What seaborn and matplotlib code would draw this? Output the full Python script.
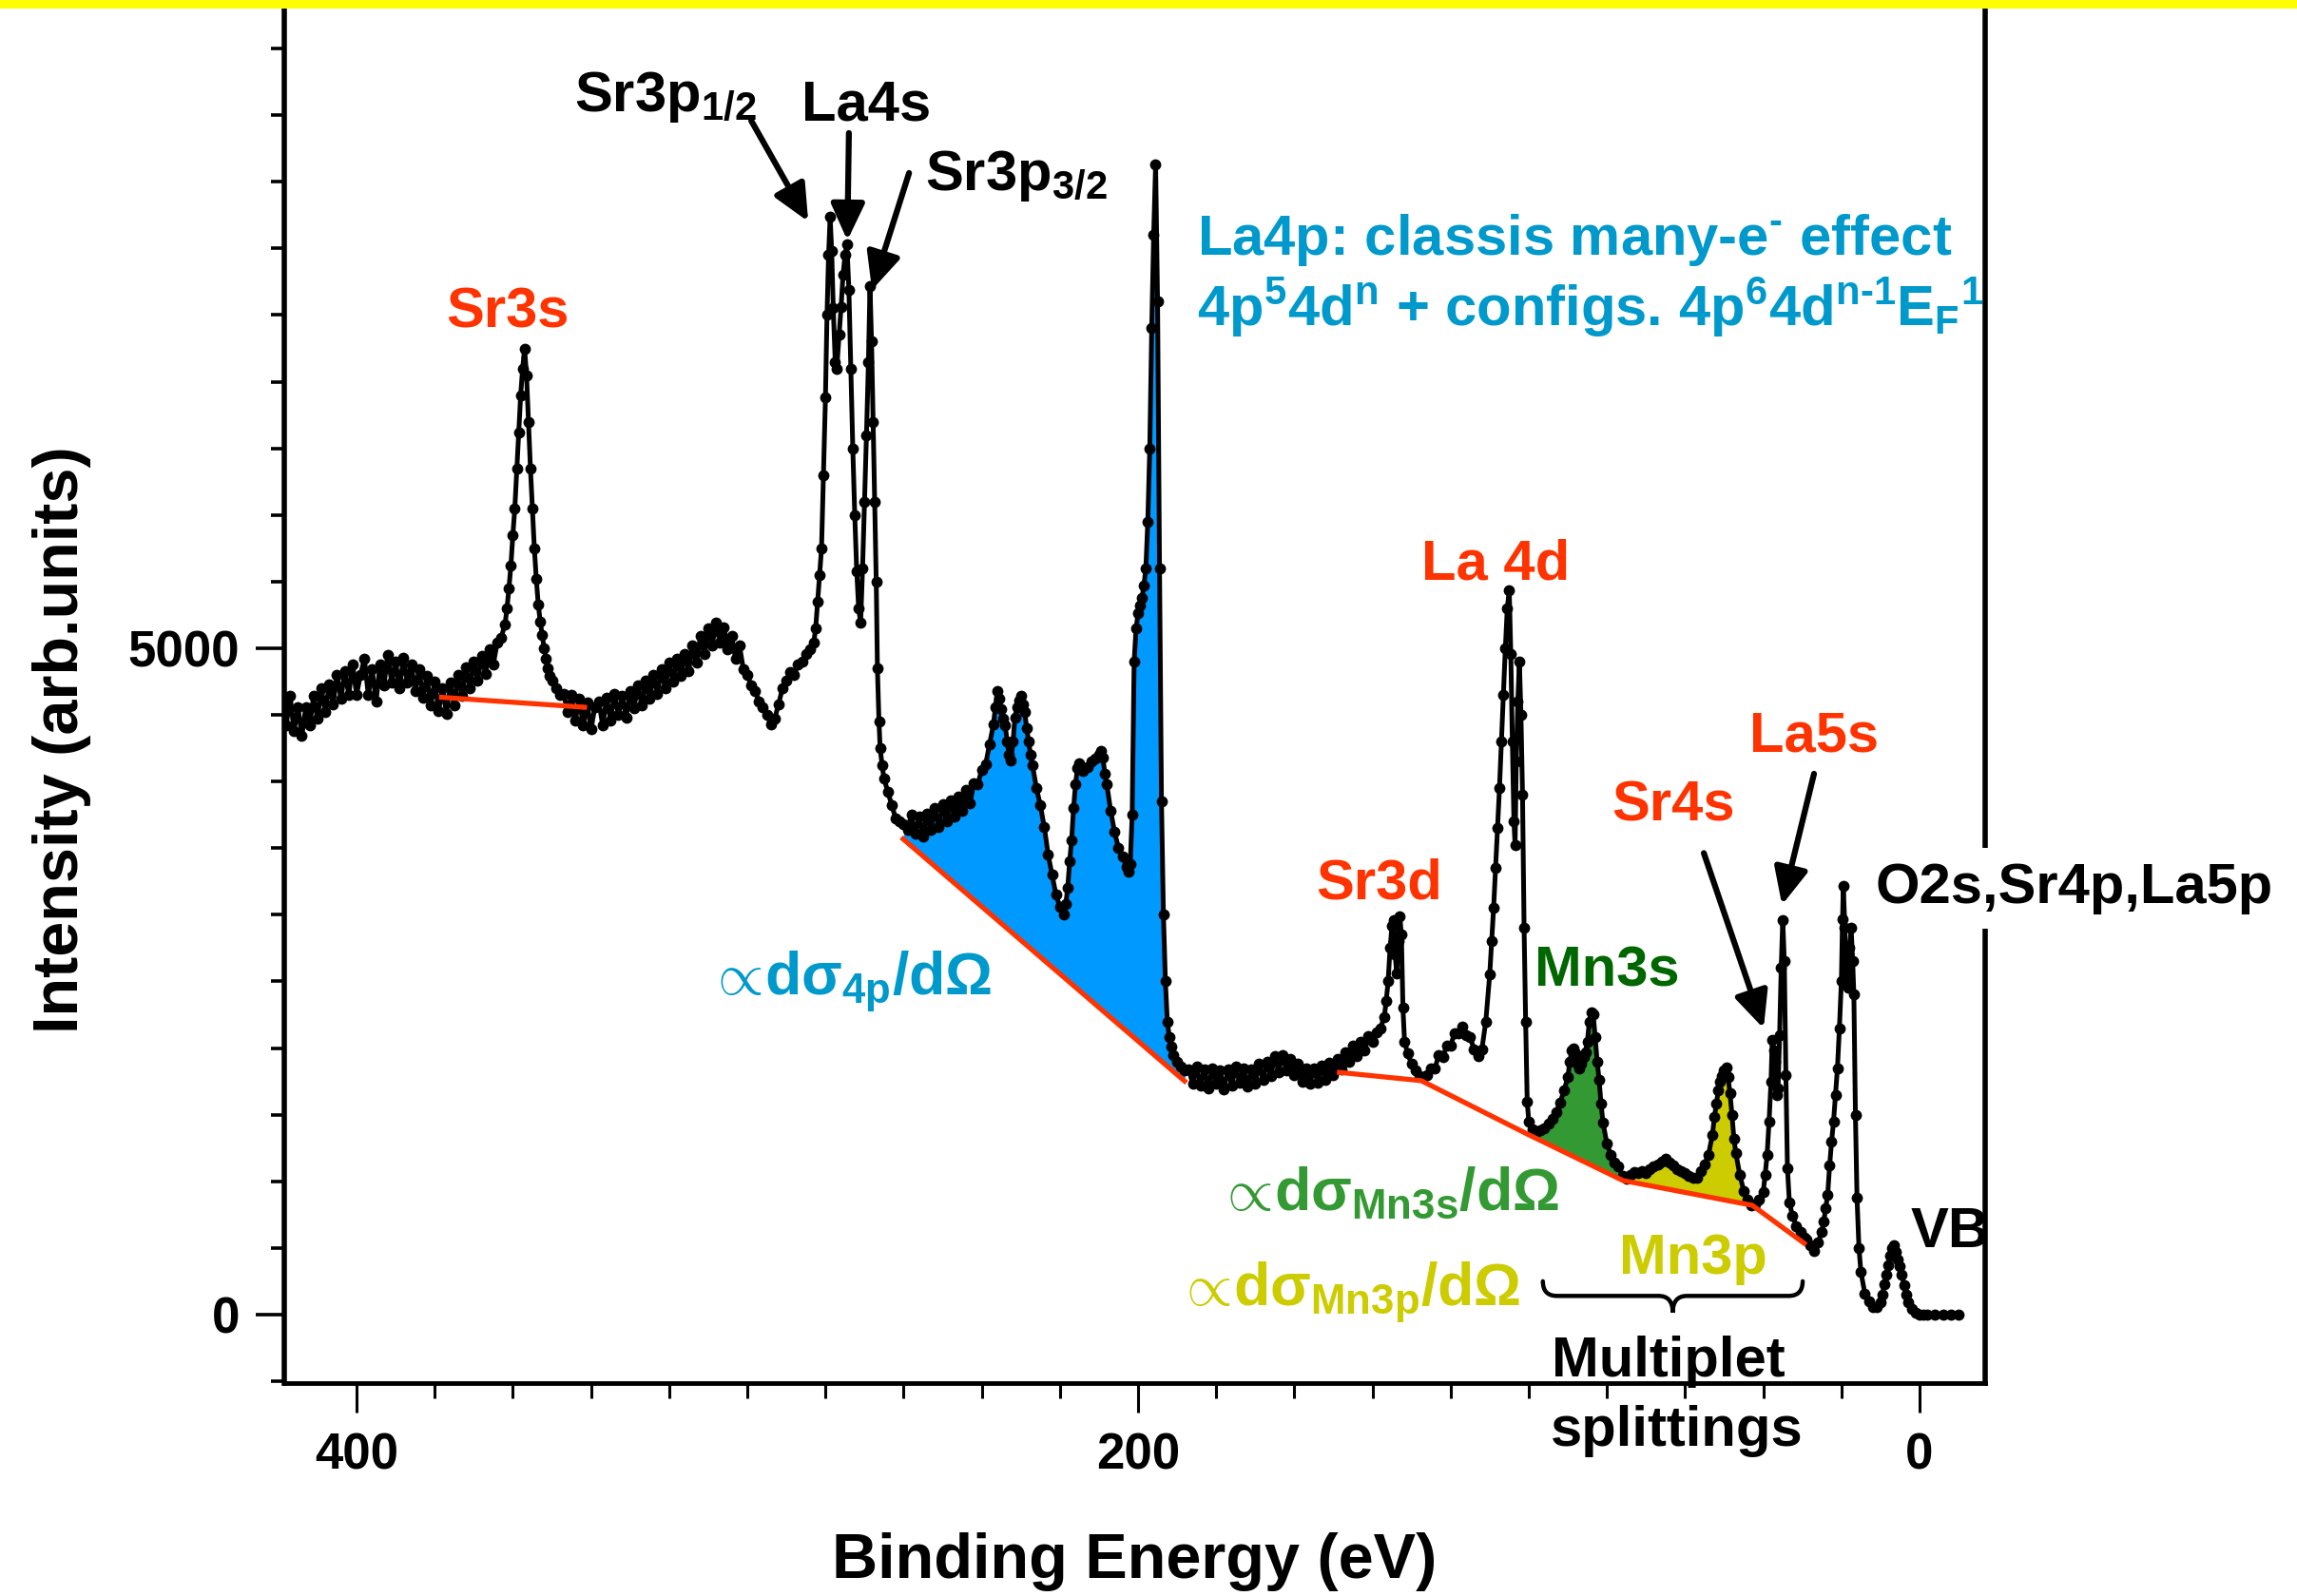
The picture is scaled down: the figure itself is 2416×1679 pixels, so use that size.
import numpy as np
import pandas as pd
import matplotlib
matplotlib.use("Agg")
import matplotlib.pyplot as plt
from matplotlib.patches import PathPatch, Rectangle
from matplotlib.path import Path
from matplotlib.ticker import MultipleLocator
import seaborn as sns

# ---------------------------------------------------------------------------
# XPS survey spectrum: (binding energy [eV], intensity [arb. units]) by region
# ---------------------------------------------------------------------------
sr3s_region = [
    (419, 4600), (418, 4420), (417, 4640), (416, 4380), (415, 4560), (414, 4340),
    (413, 4560), (412, 4420), (411, 4640), (410, 4470), (409, 4700), (408, 4520),
    (407, 4730), (406, 4580), (405, 4800), (404, 4620), (403, 4830), (402, 4650),
    (401, 4880), (400, 4650), (399, 4800), (398, 4920), (397, 4650), (396, 4840),
    (395, 4600), (394, 4880), (393, 4720), (392, 4950), (391, 4740), (390, 4900),
    (389, 4700), (388, 4930), (387, 4740), (386, 4880), (385, 4680), (384, 4840),
    (383, 4630), (382, 4790), (381, 4570), (380, 4750), (379, 4530), (378, 4700),
    (377, 4510), (376, 4740), (375, 4570), (374, 4800), (373, 4640), (372, 4860),
    (371, 4700), (370, 4900), (369, 4760), (368, 4940), (367, 4810), (366, 4990),
    (365, 4880), (364, 5040), (363, 5080), (362, 5180),
    (361.5, 5300), (361, 5450), (360.5, 5620), (360, 5850), (359.5, 6050),
    (359, 6350), (358.5, 6620), (358, 6900), (357.5, 7100), (357, 7250),
    (356.5, 7050), (356, 6700), (355.5, 6350), (355, 6050), (354.5, 5750),
    (354, 5520), (353.5, 5330), (353, 5200), (352.5, 5100), (352, 5000),
    (351.5, 4920), (351, 4850), (350.5, 4790), (350, 4760), (349, 4700), (348, 4650),
    (347, 4660), (346, 4520), (345, 4650), (344, 4460), (343, 4620), (342, 4420),
    (341, 4590), (340, 4390), (339, 4560), (338, 4600), (337, 4420), (336, 4630),
    (335, 4460), (334, 4660), (333, 4500), (332, 4640), (331, 4480), (330, 4680),
    (329, 4550), (328, 4720), (327, 4570), (326, 4760), (325, 4620), (324, 4800),
    (323, 4660), (322, 4840), (321, 4700), (320, 4890), (319, 4750), (318, 4920),
    (317, 4790), (316, 4960), (315, 4830), (314, 5020), (313, 4890), (312, 5090),
    (311, 4960), (310, 5150), (309, 5020), (308, 5190), (307, 5040), (306, 5160),
    (305, 4990), (304, 5090), (303, 4920), (302, 5020), (301, 4840), (300, 4800),
]

sr3p_region = [
    (299, 4720), (298, 4680), (297, 4600), (296, 4560), (295, 4500), (294, 4430),
    (293, 4470), (292, 4580), (291, 4700), (290, 4760), (289, 4820), (288, 4800),
    (287, 4880), (286, 4900), (285, 4960), (284, 4990), (283, 5040),
    (282.5, 5150), (282, 5350), (281.5, 5550), (281, 5750), (280.5, 6300),
    (280, 6880), (279.6, 7500), (279.2, 7950), (278.8, 8235), (278.4, 7980),
    (278, 7550), (277.5, 7150), (277.1, 7100), (276.5, 7350), (276, 7560),
    (275.5, 7800), (275, 7950), (274.5, 8030), (274, 7690), (273.5, 7100),
    (273, 6500), (272.5, 6000), (272, 5580), (271.5, 5300), (271, 5190),
    (270.5, 5600), (270, 6100), (269.5, 6600), (269, 7150), (268.6, 7720),
    (268.2, 7300), (267.8, 6700), (267.4, 6100), (267, 5500), (266.7, 4850),
    (266.3, 4450), (266, 4250), (265.5, 4120), (265, 4020), (264, 3920),
    (263, 3820), (262, 3720), (261, 3700), (260, 3680),
]

la4p_region = [
    (259, 3640), (258, 3750), (257, 3610), (256, 3740), (255, 3590), (254, 3760),
    (253, 3640), (252, 3800), (251, 3660), (250, 3830), (249, 3700), (248, 3860),
    (247, 3740), (246, 3890), (245, 3780), (244, 3940), (243, 3840), (242, 3990),
    (241, 3980), (240, 4090), (239, 4130), (238, 4280), (237, 4430), (236.5, 4560),
    (236, 4680), (235.5, 4620), (235, 4540), (234.5, 4470), (234, 4420),
    (233.5, 4300), (233, 4200), (232.5, 4160), (232, 4300), (231.5, 4480),
    (231, 4560), (230.5, 4610), (230, 4640), (229.5, 4580), (229, 4520),
    (228.5, 4400), (228, 4300), (227.5, 4200), (227, 4120), (226, 3950),
    (225, 3820), (224, 3660), (223, 3450), (222, 3300), (221, 3150), (220, 3060),
    (219, 3000), (218.5, 3080), (218, 3200), (217.5, 3400), (217, 3560),
    (216.5, 3800), (216, 3980), (215.5, 4100), (215, 4140), (214, 4080),
    (213, 4110), (212, 4150), (211, 4170), (210, 4200), (209.5, 4230),
    (209, 4180), (208.5, 4060), (208, 3980), (207, 3780), (206, 3620),
    (205, 3500), (204, 3440), (203, 3360), (202.5, 3320), (202, 3380),
    (201.5, 3750), (201, 4900), (200.5, 5150), (200, 5260), (199.5, 5320),
    (199, 5380), (198.5, 5470), (198, 5600), (197.5, 5950), (197, 6500),
    (196.5, 7400), (196, 8100), (195.5, 8630), (195, 7600), (194.5, 5600),
    (194, 3850), (193.5, 3000), (193, 2500), (192.5, 2200), (192, 2080),
    (191.5, 2010), (191, 1950), (190, 1900), (189, 1860), (188, 1830),
]

sr3d_la4d_region = [
    (187, 1840), (186, 1730), (185, 1860), (184, 1720), (183, 1840), (182, 1700),
    (181, 1850), (180, 1730), (179, 1830), (178, 1690), (177, 1840), (176, 1720),
    (175, 1860), (174, 1740), (173, 1850), (172, 1710), (171, 1840), (170, 1730),
    (169, 1880), (168, 1760), (167, 1900), (166, 1790), (165, 1940), (164, 1820),
    (163, 1950), (162, 1830), (161, 1920), (160, 1800), (159, 1880), (158, 1750),
    (157, 1850), (156, 1730), (155, 1850), (154, 1740), (153, 1870), (152, 1760),
    (151, 1890), (150, 1800), (149, 1920), (148, 1840), (147, 1970), (146, 1900),
    (145, 2020), (144, 1940), (143, 2050), (142, 1980), (141, 2090), (140, 2050),
    (139, 2120), (138, 2150), (137, 2230), (136.5, 2350), (136, 2500),
    (135.5, 2750), (135, 2920), (134.6, 2960), (134.2, 2700), (133.8, 2560),
    (133.4, 2800), (133, 2990), (132.6, 2850), (132.2, 2300), (131.8, 2050),
    (131, 1960), (130, 1880), (129, 1830), (128, 1790), (127, 1780), (126, 1800),
    (125, 1850), (124, 1850), (123, 1950), (122, 1930), (121, 2020), (120, 2020),
    (119, 2110), (118, 2110), (117, 2160), (116, 2100), (115, 2080), (114, 1990),
    (113, 1940), (112, 1990), (111, 2200), (110, 2550), (109.5, 2800),
    (109, 3050), (108.5, 3350), (108, 3650), (107.5, 3950), (107, 4300),
    (106.5, 4650), (106, 5000), (105.5, 5300), (105, 5435), (104.6, 4960),
    (104.2, 4300), (103.8, 3700), (103.5, 3520), (103.2, 4150), (102.8, 4600),
    (102.4, 4900), (102, 4500), (101.6, 3900), (101.2, 2900), (100.8, 2200),
    (100.4, 1600),
]

mn_region = [
    (100, 1450), (99, 1390), (98, 1370), (97, 1380), (96, 1400), (95, 1430),
    (94, 1470), (93, 1520), (92, 1590), (91, 1680), (90, 1780), (89.5, 1900),
    (89, 1980), (88.5, 2000), (88, 1960), (87.5, 1880), (87, 1850), (86.5, 1880),
    (86, 1930), (85.5, 1970), (85, 2050), (84.5, 2200), (84, 2270), (83.5, 2250),
    (83, 2080), (82.5, 1900), (82, 1760), (81.5, 1580), (81, 1440), (80, 1280),
    (79, 1200), (78, 1140), (77, 1110), (76, 1040), (75, 1020), (74, 1050),
    (73, 1070), (72, 1060), (71, 1080), (70, 1060), (69, 1090), (68, 1110),
    (67, 1130), (66, 1150), (65, 1170), (64, 1140), (63, 1120), (62, 1090),
    (61, 1080), (60, 1060), (59, 1040), (58, 1030), (57, 1030), (56, 1080),
    (55, 1130), (54, 1200), (53, 1350), (52.5, 1480), (52, 1580), (51.5, 1680),
    (51, 1750), (50.5, 1790), (50, 1830), (49.5, 1855), (49, 1780), (48.5, 1660),
    (48, 1500), (47.5, 1320), (47, 1210), (46, 1050), (45, 930), (44, 860),
    (43, 820), (42, 830), (41, 860), (40, 920),
]

valence_region = [
    (39.5, 1050), (39, 1200), (38.5, 1450), (38, 1750), (37.7, 2060), (37.3, 1980),
    (37, 1900), (36.6, 1650), (36.2, 1700), (35.8, 2100), (35.4, 2600), (35, 2960),
    (34.6, 2650), (34.2, 1800), (33.8, 1100), (33.3, 840), (32.5, 740),
    (31.5, 665), (30.5, 620), (29.5, 580), (29, 560), (28, 520), (27, 475),
    (26, 540), (25, 620), (24.5, 700), (24, 800), (23.5, 900), (23, 1120),
    (22.5, 1300), (22, 1450), (21.5, 1650), (21, 1850), (20.5, 2150), (20, 2500),
    (19.7, 2970), (19.5, 3215), (19.1, 2900), (18.7, 2500), (18.3, 2450),
    (17.9, 2750), (17.5, 2900), (17.1, 2650), (16.8, 2400), (16.4, 1500),
    (16, 880), (15.5, 500), (15, 320), (14, 160), (13, 100), (12, 60), (11, 55),
    (10, 90), (9.5, 150), (9, 230), (8.5, 300), (8, 370), (7.5, 440), (7, 500),
    (6.6, 520), (6, 470), (5.5, 410), (5, 360), (4.5, 300), (4, 220), (3.5, 150),
    (3, 90), (2, 40), (1, 15), (0, 0), (-1, 0), (-2, 0), (-4, 0), (-6, 0),
    (-8, 0), (-10, 0),
]

# Linear backgrounds drawn under the analysed peaks
sr3s_bg_energy = [378.9, 341.0]
sr3s_bg_counts = [4633, 4556]
la4p_bg_energy = [260.6, 187.6]
la4p_bg_counts = [3581, 1740]
mn_bg_energy = [149.1, 127.5, 100.2, 75.9, 42.8, 29.0]
mn_bg_counts = [1819, 1755, 1352, 1006, 820, 524]

# Energy windows of the shaded cross-section areas
la4p_window = (187.6, 260.6)
mn3s_window = (75.9, 99.5)
mn3p_window = (42.8, 75.9)

RED = "#FF3300"
BLUE_TXT = "#0099CC"
BLUE_FILL = "#0099FF"
GREEN_DARK = "#006600"
GREEN = "#339933"
YELLOW = "#CCCC00"

# ---------------------------------------------------------------------------
sns.set_theme(style="ticks")
plt.rcParams.update({
    "font.family": ["Liberation Sans", "DejaVu Sans"],
    "font.weight": "bold",
    "axes.labelweight": "bold",
    "axes.labelcolor": "black",
    "mathtext.fontset": "custom",
    "mathtext.rm": "Liberation Sans:bold",
    "mathtext.it": "Liberation Sans:bold",
    "mathtext.bf": "Liberation Sans:bold",
    "mathtext.sf": "Liberation Sans:bold",
    "mathtext.fallback": "stixsans",
    "axes.edgecolor": "black",
    "xtick.color": "black",
    "ytick.color": "black",
    "xtick.labelcolor": "black",
    "ytick.labelcolor": "black",
    "text.color": "black",
})

regions = [sr3s_region, sr3p_region, la4p_region, sr3d_la4d_region,
           mn_region, valence_region]
spectrum = pd.DataFrame([p for r in regions for p in r],
                        columns=["energy", "counts"]).sort_values("energy")
E = spectrum["energy"].to_numpy(float)
C = spectrum["counts"].to_numpy(float)

W, H = 2416, 1679
fig = plt.figure(figsize=(W / 100, H / 100), dpi=100)
ax = fig.add_axes([299 / W, 1 - 1455 / H, (2088 - 299) / W, (1455 - 9) / H])


def shade(window, bg_e, bg_c, color):
    lo, hi = window
    m = (E >= lo) & (E <= hi)
    e, c = E[m], C[m]
    order = np.argsort(bg_e)
    base = np.interp(e, np.asarray(bg_e)[order], np.asarray(bg_c)[order])
    ax.fill_between(e, base, c, where=c >= base, interpolate=True,
                    color=color, lw=0, zorder=1)


shade(la4p_window, la4p_bg_energy, la4p_bg_counts, BLUE_FILL)
shade(mn3s_window, mn_bg_energy, mn_bg_counts, GREEN)
shade(mn3p_window, mn_bg_energy, mn_bg_counts, YELLOW)

sns.lineplot(data=spectrum, x="energy", y="counts", ax=ax, color="black",
             lw=3.6, marker="o", markersize=8.5, markeredgewidth=0,
             estimator=None, sort=True, legend=False, zorder=3)

for be, bc in [(sr3s_bg_energy, sr3s_bg_counts),
               (la4p_bg_energy, la4p_bg_counts),
               (mn_bg_energy, mn_bg_counts)]:
    ax.plot(be, bc, color=RED, lw=3.8, zorder=4, solid_capstyle="butt")

# Axes, ticks, spines
ax.set_xlim(418.5, -16.8)
ax.set_ylim(-514, 9800)
ax.xaxis.set_major_locator(MultipleLocator(200))
ax.xaxis.set_minor_locator(MultipleLocator(20))
ax.yaxis.set_major_locator(MultipleLocator(5000))
ax.yaxis.set_minor_locator(MultipleLocator(500))
ax.tick_params(axis="both", which="both", direction="out", top=False,
               right=False, colors="black")
ax.tick_params(axis="y", which="major", length=21.6, width=2.6, pad=12,
               labelsize=38)
ax.tick_params(axis="y", which="minor", length=10, width=2.6)
ax.tick_params(axis="x", which="major", length=22, width=2.2, pad=15,
               labelsize=38)
ax.tick_params(axis="x", which="minor", length=11.5, width=2.2)
for lab in ax.get_xticklabels() + ax.get_yticklabels():
    lab.set_fontweight("bold")
ax.spines["top"].set_visible(False)
for side, w in [("left", 4.0), ("right", 4.0), ("bottom", 3.5)]:
    ax.spines[side].set_linewidth(w)
    ax.spines[side].set_color("black")
ax.grid(False)

ax.set_xlabel("Binding Energy (eV)", fontsize=48, fontweight="bold",
              color="black")
ax.set_ylabel("Intensity (arb.units)", fontsize=48, fontweight="bold",
              color="black")
ax.xaxis.set_label_coords(0.5, -0.1085)
ax.yaxis.set_label_coords(-0.1135, 0.468)

# Peak labels
FS = 43
def label(x, y, s, color="black", ha="center", **kw):
    ax.text(x, y, s, color=color, ha=ha, va="baseline", fontsize=FS,
            fontweight="bold", **kw)


def cross_section_label(x, y, sub, color):
    """'proportional to d(sigma)/d(Omega)': thin wide sign + bold text."""
    ax.annotate(r"$\propto$", xy=(x, y), xycoords="data", xytext=(-8, 0),
                textcoords="offset points", ha="left", va="baseline",
                color=color, fontsize=45, fontweight="normal",
                math_fontfamily="cm")
    ax.annotate(r"dσ$_{%s}$/dΩ" % sub, xy=(x, y), xycoords="data",
                xytext=(35, 0), textcoords="offset points", ha="left",
                va="baseline", color=color, fontsize=45, fontweight="bold")


label(361.3, 7404, "Sr3s", RED)
label(344.3, 9030, r"Sr3p$_{1/2}$", ha="left")
label(269.6, 8959, "La4s")
label(254.5, 8438, r"Sr3p$_{3/2}$", ha="left")
label(184.9, 7953, r"La4p: classis many-e$^{\text{-}}$ effect", BLUE_TXT,
      ha="left")
label(184.9, 7418,
      r"4p$^{5}$4d$^{n}$ + configs. 4p$^{6}$4d$^{n\text{-}1}{E_F}^{1}$",
      BLUE_TXT, ha="left")
cross_section_label(307.5, 2404, "4p", BLUE_TXT)
label(108.5, 5514, "La 4d", RED)
label(138.2, 3117, "Sr3d", RED)
label(80.0, 2461, "Mn3s", GREEN_DARK)
cross_section_label(177.1, 785, "Mn3s", GREEN)
cross_section_label(187.6, 71, "Mn3p", YELLOW)
label(57.9, 307, "Mn3p", YELLOW)
label(63.0, 3702, "Sr4s", RED)
label(27.0, 4223, "La5s", RED)
label(11.4, 3088, "O2s,Sr4p,La5p", ha="left",
      bbox=dict(boxstyle="square,pad=0.25", fc="white", ec="none"), zorder=6)
label(2.2, 506, "VB", ha="left")
label(64.2, -464, "Multiplet")
label(62.0, -984, "splittings")

# Arrows pointing at individual lines
arrows = [((299.0, 8959), (284.4, 8202)),
          ((274.0, 8866), (274.4, 8060)),
          ((258.6, 8566), (268.1, 7689)),
          ((55.2, 3463), (39.9, 2147)),
          ((27.0, 4058), (35.2, 3074))]
for tail, head in arrows:
    ax.annotate("", xy=head, xytext=tail,
                arrowprops=dict(arrowstyle="-|>,head_length=0.65,head_width=0.3",
                                mutation_scale=36, lw=4.5, color="black",
                                shrinkA=0, shrinkB=0), zorder=5)

# Curly brace spanning the multiplet region
b_left, b_right = 96.4, 29.9
b_end, b_bar, b_tip = 250, 140, 15
r = 3.6
mid = (b_left + b_right) / 2
verts = [(b_left, b_end), (b_left, b_bar), (b_left - r, b_bar),
         (mid + r, b_bar),
         (mid, b_bar), (mid, b_tip),
         (mid, b_bar), (mid - r, b_bar),
         (b_right + r, b_bar),
         (b_right, b_bar), (b_right, b_end)]
codes = [Path.MOVETO, Path.CURVE3, Path.CURVE3, Path.LINETO,
         Path.CURVE3, Path.CURVE3, Path.CURVE3, Path.CURVE3,
         Path.LINETO, Path.CURVE3, Path.CURVE3]
ax.add_patch(PathPatch(Path(verts, codes), fill=False, lw=3.2,
                       color="black", zorder=5, capstyle="round"))

# Yellow strip along the top edge
fig.add_artist(Rectangle((0, 1 - 9 / H), 1, 9 / H, transform=fig.transFigure,
                         color="#FFFF00", lw=0, zorder=10))

fig.savefig("out.png", dpi=100)
